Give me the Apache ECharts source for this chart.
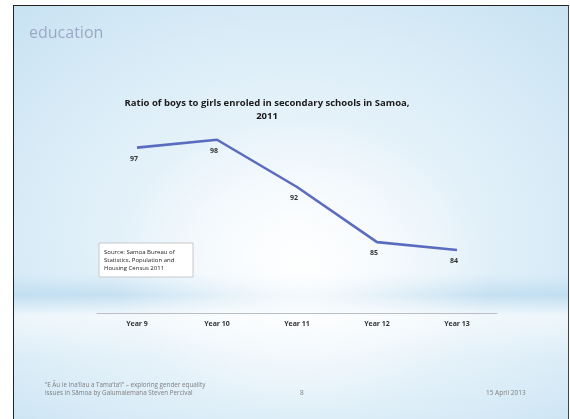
<!DOCTYPE html>
<html>
<head>
<meta charset="utf-8">
<script src="https://cdn.jsdelivr.net/npm/echarts@6/dist/echarts.min.js"></script>
<style>
  html, body { margin: 0; padding: 0; background: #ffffff; }
  #slide {
    position: absolute; left: 13px; top: 5px; width: 556px; height: 420px;
    box-sizing: border-box;
    border-left: 1px solid #222; border-top: 1px solid #222; border-right: 1px solid #444;
    background:
      radial-gradient(ellipse 190px 150px at 52% 62%, rgba(255,255,255,0.95), rgba(255,255,255,0) 100%),
      linear-gradient(180deg, rgba(255,255,255,0) 0%, rgba(255,255,255,0) 64%, rgba(175,212,236,0.55) 69%, rgba(255,255,255,0.6) 74%, rgba(255,255,255,0.2) 84%, rgba(255,255,255,0) 100%),
      radial-gradient(ellipse 420px 330px at 50% 55%, #f4f9fd 0%, #ddeef8 55%, #c6e1f2 100%);
  }
  #chart { position: absolute; left: 0; top: 0; width: 570px; height: 419px; }
</style>
</head>
<body>
<div id="slide"></div>
<div id="chart"></div>
<script>
// Ratio of boys to girls enrolled, by school year
const categories = ['Year 9', 'Year 10', 'Year 11', 'Year 12', 'Year 13'];
const ratioValues = [97, 98, 92, 85, 84];

const chart = echarts.init(document.getElementById('chart'), null, { renderer: 'canvas' });

const sansFont = '"Open Sans", "DejaVu Sans", sans-serif';

chart.setOption({
  backgroundColor: 'transparent',
  animation: false,
  title: {
    text: 'Ratio of boys to girls enroled in secondary schools in Samoa,\n2011',
    left: 262, top: 92, textAlign: 'center',
    textStyle: { fontFamily: sansFont, fontSize: 9.5, fontWeight: 'bold', color: '#1a1a1a', lineHeight: 13 }
  },
  grid: { left: 97, right: 73, top: 124, bottom: 106 },
  xAxis: {
    type: 'category',
    data: categories,
    boundaryGap: true,
    axisLine: { lineStyle: { color: '#b9bfc6', width: 1 } },
    axisTick: { show: false },
    axisLabel: { color: '#333', fontFamily: sansFont, fontSize: 7, fontWeight: 'bold', margin: 7 }
  },
  yAxis: {
    type: 'value', min: 76, max: 100, show: false, splitLine: { show: false }
  },
  series: [{
    type: 'line',
    data: ratioValues,
    symbol: 'circle',
    symbolSize: 1,
    showSymbol: true,
    itemStyle: { color: 'rgba(0,0,0,0)' },
    lineStyle: { color: '#5a6cbf', width: 2.6 },
    label: {
      show: true, position: 'bottom', distance: 7,
      color: '#333', fontFamily: sansFont, fontSize: 7, fontWeight: 'bold', offset: [-3, 0]
    }
  }],
  graphic: [
    {
      type: 'text', left: 29, top: 25,
      style: { text: 'education', fill: '#9ba9c6', font: '16px "Open Sans", sans-serif' }
    },
    {
      type: 'rect', shape: { x: 99, y: 243, width: 94, height: 34 },
      style: { fill: '#ffffff', stroke: '#c8c8c8', lineWidth: 1 }
    },
    {
      type: 'text', x: 104, y: 248,
      style: {
        text: 'Source: Samoa Bureau of\nStatistics, Population and\nHousing Census 2011',
        fill: '#222', font: '6px "Open Sans", sans-serif', lineHeight: 8
      }
    },
    {
      type: 'text', x: 45, y: 381,
      style: {
        text: '\u201cE \u0100u le Ina\u2018ilau a Tama\u2018ta\u2018i\u201d \u2013 exploring gender equality\nissues in S\u0101moa by Galumalemana Steven Percival',
        fill: '#7f7f7f', font: '6.3px "Open Sans", sans-serif', lineHeight: 8
      }
    },
    {
      type: 'text', x: 300, y: 390,
      style: { text: '8', fill: '#7f7f7f', font: '6.5px "Open Sans", sans-serif' }
    },
    {
      type: 'text', x: 486, y: 390,
      style: { text: '15 April 2013', fill: '#7f7f7f', font: '6.5px "Open Sans", sans-serif' }
    }
  ]
});
</script>
</body>
</html>
